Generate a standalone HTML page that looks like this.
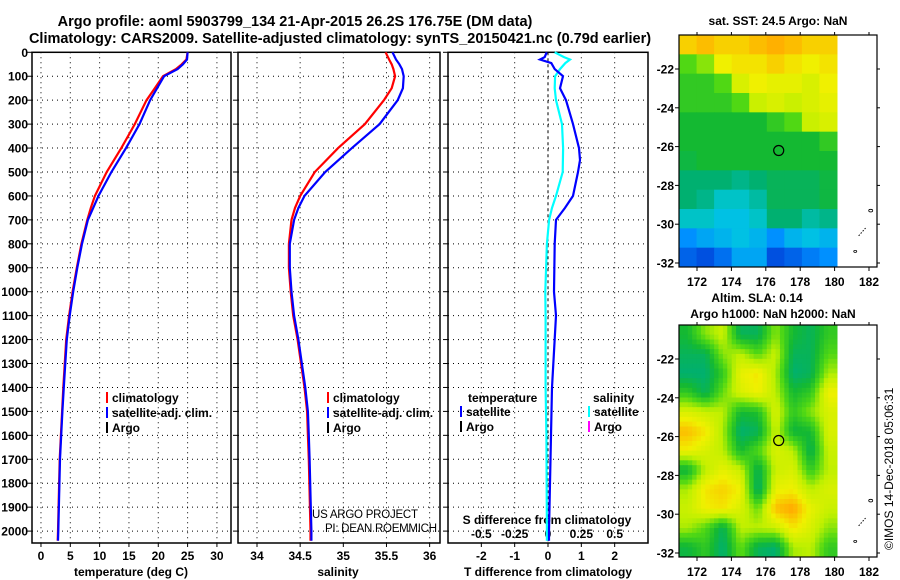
<!DOCTYPE html>
<html><head><meta charset="utf-8">
<style>
body{margin:0;background:#fff;}
svg{display:block;font-family:"Liberation Sans",sans-serif;font-weight:bold;}
</style></head>
<body>
<svg id="fig" width="900" height="580" viewBox="0 0 900 580">
<text x="295" y="26" font-size="14.5" text-anchor="middle">Argo profile: aoml 5903799_134 21-Apr-2015 26.2S 176.75E (DM data)</text>
<text x="340" y="43" font-size="14.5" text-anchor="middle">Climatology: CARS2009. Satellite-adjusted climatology: synTS_20150421.nc (0.79d earlier)</text>
<text x="778" y="25" font-size="12" text-anchor="middle">sat. SST: 24.5 Argo: NaN</text>
<text x="757" y="302" font-size="12" text-anchor="middle">Altim. SLA: 0.14</text>
<text x="773" y="318" font-size="12" text-anchor="middle">Argo h1000: NaN h2000: NaN</text>
<text x="312" y="518" font-size="11.5" font-weight="normal" textLength="106">US ARGO PROJECT</text>
<text x="325" y="532" font-size="11.5" font-weight="normal" textLength="112">PI: DEAN ROEMMICH</text>
<text transform="translate(893,550) rotate(-90)" font-size="12" font-weight="normal">©IMOS 14-Dec-2018 05:06:31</text>
<g id="g"></g>
</svg>
<script>
// ---- profile data ----
const depths = [0,30,50,70,100,150,200,300,400,500,600,650,700,800,900,1000,1100,1200,1400,1500,1600,1700,2000,2040];
const tempClim = [25.0,24.8,24.0,23.0,20.8,19.4,18.0,16.0,13.7,11.2,9.2,8.5,7.9,6.9,6.1,5.4,4.8,4.3,3.8,3.6,3.4,3.2,2.9,2.85];
const tempSat  = [25.0,24.9,24.2,23.3,21.0,19.8,18.6,16.8,14.5,12.0,9.8,8.9,8.0,7.0,6.2,5.5,4.9,4.4,3.9,3.65,3.45,3.25,2.95,2.9];
const salClim  = [35.49,35.53,35.56,35.58,35.6,35.56,35.47,35.25,34.94,34.67,34.5,34.44,34.4,34.37,34.37,34.39,34.42,34.47,34.55,34.58,34.59,34.6,34.62,34.62];
const salSat   = [35.57,35.61,35.65,35.68,35.7,35.69,35.63,35.42,35.1,34.79,34.55,34.48,34.43,34.38,34.38,34.4,34.43,34.48,34.56,34.59,34.6,34.61,34.63,34.63];
const diffDepths = [0,20,30,45,70,100,150,200,300,400,450,500,600,650,700,800,1000,1100,1400,1600,2000,2040];
const tDiff = [-0.04,-0.1,-0.24,0.1,0.2,0.45,0.36,0.54,0.75,0.93,0.96,0.9,0.75,0.51,0.24,0.2,0.18,0.24,0.12,0.09,0.03,0.03];
const sDiff = [0.05,0.12,0.165,0.13,0.09,0.053,0.05,0.06,0.105,0.113,0.112,0.11,0.06,0.03,0.008,-0.008,-0.02,-0.018,-0.018,-0.012,-0.008,-0.008];
const depthTicks = [0,100,200,300,400,500,600,700,800,900,1000,1100,1200,1300,1400,1500,1600,1700,1800,1900,2000];
const tempTicks = [0,5,10,15,20,25,30];
const salTicks = [34,34.5,35,35.5,36];
const tdTicks = [-2,-1,0,1,2];
const sdTicks = [-0.5,-0.25,0,0.25,0.5];
const sdTickLabels = ["-0.5","-0.25","0","0.25","0.5"];
// ---- map data (rows top->bottom, lon 171..180) ----
const sstGrid = [
[0.85,0.88,0.85,0.85,0.88,0.9,0.88,0.85,0.85],
[0.6,0.65,0.8,0.82,0.82,0.85,0.82,0.8,0.82],
[0.55,0.55,0.6,0.75,0.8,0.78,0.78,0.75,0.8],
[0.55,0.55,0.55,0.6,0.72,0.75,0.72,0.75,0.78],
[0.5,0.5,0.5,0.5,0.5,0.55,0.6,0.72,0.75],
[0.5,0.5,0.5,0.5,0.5,0.5,0.5,0.5,0.55],
[0.48,0.5,0.5,0.5,0.5,0.5,0.5,0.5,0.5],
[0.42,0.42,0.42,0.4,0.42,0.45,0.45,0.45,0.48],
[0.42,0.4,0.35,0.35,0.38,0.45,0.45,0.45,0.48],
[0.35,0.35,0.32,0.32,0.35,0.42,0.42,0.38,0.4],
[0.25,0.28,0.3,0.32,0.3,0.25,0.3,0.32,0.3],
[0.18,0.15,0.2,0.28,0.28,0.15,0.18,0.22,0.25]];
const slaGrid = [
[0.5,0.65,0.72,0.45,0.45,0.65,0.5,0.45,0.55],
[0.45,0.45,0.65,0.7,0.6,0.72,0.45,0.45,0.6],
[0.42,0.42,0.55,0.78,0.82,0.68,0.42,0.45,0.68],
[0.55,0.45,0.62,0.75,0.8,0.7,0.5,0.55,0.8],
[0.75,0.72,0.7,0.5,0.52,0.75,0.55,0.65,0.75],
[0.88,0.82,0.68,0.42,0.45,0.72,0.48,0.5,0.75],
[0.8,0.75,0.7,0.5,0.6,0.75,0.7,0.45,0.72],
[0.48,0.7,0.78,0.72,0.45,0.72,0.75,0.55,0.7],
[0.68,0.82,0.85,0.8,0.42,0.78,0.8,0.7,0.75],
[0.72,0.8,0.82,0.75,0.62,0.88,0.92,0.78,0.72],
[0.68,0.6,0.45,0.7,0.7,0.72,0.82,0.75,0.65],
[0.48,0.55,0.42,0.62,0.45,0.42,0.68,0.7,0.55]];
const lonTicks = [172,174,176,178,180,182];
const latTicks = [-22,-24,-26,-28,-30,-32];
const argoLon = 176.75, argoLat = -26.2;

const NS="http://www.w3.org/2000/svg";
const G=document.getElementById('g');
function mk(tag,attrs,parent){const e=document.createElementNS(NS,tag);for(const k in attrs)e.setAttribute(k,attrs[k]);(parent||G).appendChild(e);return e;}
const TOP=52.3, BOT=543;
const yD=d=>TOP+d*0.2394;
function lin(d0,d1,r0,r1){return v=>r0+(v-d0)*(r1-r0)/(d1-d0);}
const panels=[
 {x0:32,x1:231,sc:lin(-1.53,32.4,32,231),ticks:tempTicks,name:'temperature'},
 {x0:238,x1:440,sc:lin(33.78,36.12,238,440),ticks:salTicks,name:'salinity'},
 {x0:448,x1:648,sc:lin(-3,3,448,648),ticks:tdTicks,name:'difference'}];
const sS=lin(-0.75,0.75,448,648);

panels.forEach((p,i)=>{
  const pg=mk('g',{});
  
  
  depthTicks.forEach(d=>{
    if(d>0) mk('line',{x1:p.x0,x2:p.x1,y1:yD(d),y2:yD(d),stroke:'#000','stroke-width':1,'stroke-dasharray':'1,4'},pg);
    mk('line',{x1:p.x0-5,x2:p.x0,y1:yD(d),y2:yD(d),stroke:'#000'},pg);
    if(i===0){const t=mk('text',{x:28,y:yD(d)+4.5,'font-size':12,'text-anchor':'end'},pg);t.textContent=d;}
  });
  p.ticks.forEach((v,k)=>{
    const x=p.sc(v);
    mk('line',{x1:x,x2:x,y1:TOP,y2:BOT,stroke:'#000','stroke-dasharray':i===2&&v===0?'3,3':'1,4'},pg);
    mk('line',{x1:x,x2:x,y1:BOT,y2:BOT+4,stroke:'#000'},pg);
    const t=mk('text',{x:x,y:560,'font-size':12,'text-anchor':'middle'},pg);t.textContent=v;
  });
  mk('rect',{x:p.x0,y:TOP,width:p.x1-p.x0,height:BOT-TOP,fill:'none',stroke:'#000','stroke-width':1.5},pg);
});
[['temperature (deg C)',131],['salinity',338],['T difference from climatology',548]].forEach(([s,x])=>{
  const t=mk('text',{x:x,y:576,'font-size':12,'text-anchor':'middle'});
  
  
  t.textContent=s;});
sdTicks.forEach((v,k)=>{const t=mk('text',{x:sS(v),y:538,'font-size':12,'text-anchor':'middle'});t.textContent=sdTickLabels[k];});
{const t=mk('text',{x:547,y:524,'font-size':12,'text-anchor':'middle'});t.textContent='S difference from climatology';}

function line(xs,ds,sc,color,name){
  const pts=xs.map((v,i)=>sc(v).toFixed(1)+','+yD(ds[i]).toFixed(1)).join(' ');
  const e=mk('polyline',{points:pts,fill:'none',stroke:color,'stroke-width':2.2});
  
  
}
line(tempClim,depths,panels[0].sc,'#f00','temp-climatology-line');
line(tempSat,depths,panels[0].sc,'#00f','temp-satellite-line');
line(salClim,depths,panels[1].sc,'#f00','sal-climatology-line');
line(salSat,depths,panels[1].sc,'#00f','sal-satellite-line');
line(sDiff,diffDepths,sS,'#0ff','sdiff-satellite-line');
line(tDiff,diffDepths,panels[2].sc,'#00f','tdiff-satellite-line');

function legend(x,y,items){
  items.forEach(([c,s],i)=>{
    mk('rect',{x:x,y:y+i*15-10,width:2,height:11,fill:c});
    const t=mk('text',{x:x+6,y:y+i*15,'font-size':12});
    
    
    t.textContent=s;
  });
}
legend(106,402,[['#f00','climatology'],['#00f','satellite-adj. clim.'],['#000','Argo']]);
legend(327,402,[['#f00','climatology'],['#00f','satellite-adj. clim.'],['#000','Argo']]);
{const t=mk('text',{x:468,y:402,'font-size':12});t.textContent='temperature';}
legend(460,416,[['#00f','satellite'],['#000','Argo']]);
{const t=mk('text',{x:593,y:402,'font-size':12});t.textContent='salinity';}
legend(588,416,[['#0ff','satellite'],['#f0f','Argo']]);

// ---- maps ----
const stops=[[0,[0,16,160]],[0.15,[0,80,224]],[0.25,[0,144,255]],[0.33,[0,200,224]],[0.42,[0,176,112]],[0.5,[20,185,50]],[0.6,[80,216,20]],[0.7,[192,240,0]],[0.8,[240,240,0]],[0.9,[255,176,0]],[1,[255,120,0]]];
function cmap(v){for(let i=1;i<stops.length;i++){if(v<=stops[i][0]){const a=stops[i-1],b=stops[i],f=(v-a[0])/(b[0]-a[0]);const c=a[1].map((q,j)=>Math.round(q+(b[1][j]-q)*f));return `rgb(${c})`;}}return 'rgb(255,120,0)';}
function sample(grid,r,c){
  const R=grid.length,C=grid[0].length;
  r=Math.max(0,Math.min(R-1,r));c=Math.max(0,Math.min(C-1,c));
  const r0=Math.floor(r),c0=Math.floor(c),r1=Math.min(R-1,r0+1),c1=Math.min(C-1,c0+1),fr=r-r0,fc=c-c0;
  return grid[r0][c0]*(1-fr)*(1-fc)+grid[r0][c1]*(1-fr)*fc+grid[r1][c0]*fr*(1-fc)+grid[r1][c1]*fr*fc;
}
function map(top,grid,name,sub){
  const mx=lin(172,182,697,869), my=lin(-22,-32,top+34,top+228);
  const mg=mk('g',{});
  
  
  const x0=679,x1=877,y0=top,y1=top+232,dx=837;
  const rows=grid.length, cols=grid[0].length;
  const ch=(y1-y0)/rows/sub, cw=(dx-x0)/cols/sub;
  for(let r=0;r<rows*sub;r++)for(let c=0;c<cols*sub;c++){
    const v=sub===1?grid[r][c]:sample(grid,(r+0.5)/sub-0.5,(c+0.5)/sub-0.5);
    const cell=mk('rect',{x:x0+c*cw,y:y0+r*ch,width:cw+0.5,height:ch+0.5,fill:cmap(v)},mg);
    
    
  }
  mk('rect',{x:x0,y:y0,width:x1-x0,height:y1-y0,fill:'none',stroke:'#000','stroke-width':1.2},mg);
  lonTicks.forEach(v=>{const x=mx(v);mk('line',{x1:x,x2:x,y1:y1,y2:y1+4,stroke:'#000'},mg);mk('line',{x1:x,x2:x,y1:y0,y2:y0-3,stroke:'#000'},mg);
    const t=mk('text',{x:x,y:y1+19,'font-size':12,'text-anchor':'middle'},mg);t.textContent=v;});
  latTicks.forEach(v=>{const y=my(v);mk('line',{x1:x0-4,x2:x0,y1:y,y2:y,stroke:'#000'},mg);mk('line',{x1:x1,x2:x1+3,y1:y,y2:y,stroke:'#000'},mg);
    const t=mk('text',{x:x0-5,y:y+4.5,'font-size':12,'text-anchor':'end'},mg);t.textContent=v;});
  const c=mk('circle',{cx:mx(argoLon),cy:my(argoLat),r:5,fill:'none',stroke:'#000','stroke-width':1.2},mg);
  
  
  mk('ellipse',{cx:mx(182.1),cy:my(-29.3),rx:2,ry:1.3,fill:'none',stroke:'#000','stroke-width':0.8},mg);
  mk('line',{x1:mx(181.4),y1:my(-30.6),x2:mx(181.8),y2:my(-30.2),stroke:'#000','stroke-width':1,'stroke-dasharray':'1.5,1.5'},mg);
  mk('ellipse',{cx:mx(181.2),cy:my(-31.4),rx:1.5,ry:1,fill:'none',stroke:'#000','stroke-width':0.8},mg);
}
map(35,sstGrid,'sst-map',1);
map(325,slaGrid,'sla-map',4);
</script>
</body></html>
